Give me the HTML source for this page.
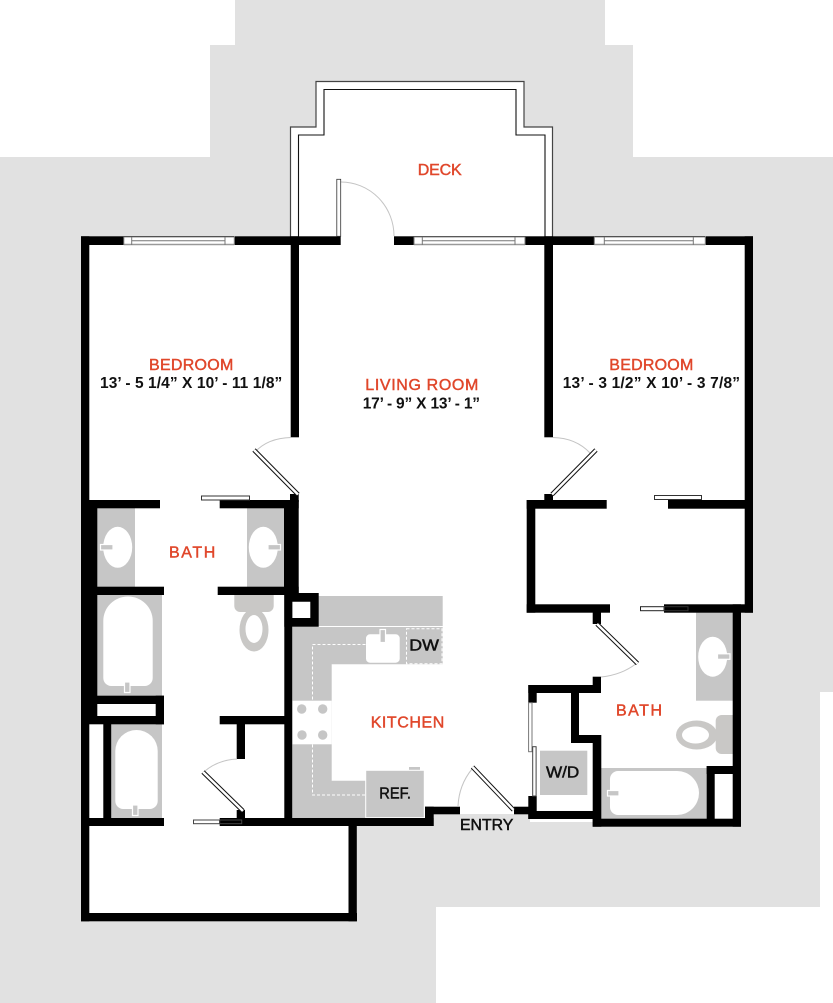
<!DOCTYPE html>
<html><head><meta charset="utf-8"><style>
html,body{margin:0;padding:0;background:#fff;width:833px;height:1003px;overflow:hidden}
svg{display:block}
text{font-family:"Liberation Sans",sans-serif}
.o{fill:#e0472b;font-size:16px;stroke:#e0472b;stroke-width:.45}
.k{fill:#111;font-size:15.5px;font-weight:bold}
.w{fill:#111;font-size:16px;stroke:#111;stroke-width:.5}
.g{fill:#c6c6c6}
.t{fill:#c9c8c6}
.arc{fill:none;stroke:#c4c4c4;stroke-width:1}
.f{fill:#c6c6c6;stroke:#fff;stroke-width:1.2}
.s{fill:#fff;stroke:#333;stroke-width:1}
</style></head><body>
<svg width="833" height="1003" viewBox="0 0 833 1003" xmlns="http://www.w3.org/2000/svg">
<polygon fill="#e1e1e1" points="235,0 605,0 605,45 633,45 633,157 833,157 833,692 820,692 820,907 436,907 436,1003 0,1003 0,157 210,157 210,45 235,45"/>
<!-- apartment interior -->
<polygon fill="#fff" points="85,240 749,240 749,610 737,610 737,822 530,822 530,814 430,814 430,822 350,822 350,916 85,916"/>
<!-- deck -->
<polygon fill="#fff" points="290.500,245 290.500,127 316,127 316,81.500 524,81.500 524,127 552.500,127 552.500,245"/>
<polyline fill="none" stroke="#444" stroke-width="1.200" points="290.500,237 290.500,127 316,127 316,81.500 524,81.500 524,127 552.500,127 552.500,237"/>
<polyline fill="none" stroke="#111" stroke-width="1.100" points="298.500,237 298.500,135 324,135 324,89.500 516,89.500 516,135 545,135 545,237"/>
<!-- kitchen -->
<rect class="g" x="318" y="596" width="124.700" height="30"/>
<polygon class="g" points="292,627 442.700,627 442.700,664.300 331.700,664.300 331.700,780.700 366,780.700 366,818 292,818"/>
<rect x="292.500" y="700.700" width="39.200" height="43.600" fill="#fff"/>
<g class="g"><circle cx="301.700" cy="709" r="4.700"/><circle cx="322.700" cy="709" r="4.700"/><circle cx="302" cy="735" r="4.700"/><circle cx="322.700" cy="735" r="4.700"/></g>
<path d="M365.500 644.500H312.500V700.500M312.500 744.500V795H365.500" fill="none" stroke="#fff" stroke-width="1" stroke-dasharray="3 2"/>
<rect x="406.500" y="628.800" width="35.500" height="35" fill="none" stroke="#fff" stroke-width="1" stroke-dasharray="3 2"/>
<rect x="366" y="634.300" width="33.700" height="28.400" rx="4" fill="#fff"/>
<rect class="f" x="380" y="629.500" width="5.500" height="13"/>
<rect class="g" x="409" y="767" width="11" height="3.500"/>
<rect class="g" x="365.700" y="770.300" width="58.600" height="47.400" stroke="#fff" stroke-width="1"/>
<!-- left bath fixtures -->
<rect class="g" x="97" y="508" width="38" height="79"/>
<ellipse cx="117.700" cy="547.300" rx="14.500" ry="20.500" fill="#fff"/>
<rect class="f" x="100.500" y="544.500" width="12.500" height="5.500"/>
<rect class="g" x="247" y="508" width="38" height="79"/>
<ellipse cx="263.300" cy="547.300" rx="14.500" ry="20.500" fill="#fff"/>
<rect class="f" x="268" y="544.500" width="12.500" height="5.500"/>
<rect class="g" x="97" y="595" width="65" height="101"/>
<path d="M103.300 620.700a24.700 24.200 0 0 1 49.400 0V678a8 8 0 0 1-8 8H111.300a8 8 0 0 1-8-8Z" fill="#fff"/>
<rect class="f" x="124.500" y="682" width="5.500" height="10.500"/>
<rect class="g" x="111" y="724" width="51" height="94"/>
<path d="M115.300 751a21.200 21 0 0 1 42.400 0V801a8 8 0 0 1-8 8H123.300a8 8 0 0 1-8-8Z" fill="#fff"/>
<rect class="f" x="132.500" y="805" width="5.500" height="10.500"/>
<path class="t" d="M234.300 595H273.700V606a6 6 0 0 1-6 6H240.300a6 6 0 0 1-6-6Z"/>
<ellipse class="t" cx="254" cy="630" rx="14.500" ry="21.500"/>
<ellipse cx="254" cy="629" rx="8.500" ry="14" fill="#fff"/>
<!-- right bath fixtures -->
<rect class="g" x="696" y="612" width="37" height="88.700"/>
<ellipse cx="712.700" cy="656.700" rx="14.500" ry="20" fill="#fff"/>
<rect class="f" x="717.500" y="653.800" width="12.500" height="5.500"/>
<path class="t" d="M733 715H721.700a6 6 0 0 0-6 6V748a6 6 0 0 0 6 6H733Z"/>
<ellipse class="t" cx="696.700" cy="735" rx="20.700" ry="14.500"/>
<ellipse cx="695.500" cy="735" rx="13.500" ry="8.500" fill="#fff"/>
<rect class="g" x="601" y="768" width="106" height="51"/>
<path d="M618 771H677a22 22 0 0 1 0 44H618a8 8 0 0 1-8-8V779a8 8 0 0 1 8-8Z" fill="#fff"/>
<rect class="f" x="607.500" y="790.500" width="11.500" height="5.500"/>
<rect class="g" x="540" y="750.700" width="47.300" height="44.300"/>
<!-- walls -->
<g fill="#000">
<rect x="81" y="236.300" width="43" height="8.700"/>
<rect x="234.700" y="236.300" width="106" height="8.700"/>
<rect x="394" y="236.300" width="20" height="8.700"/>
<rect x="525" y="236.300" width="69.300" height="8.700"/>
<rect x="705.700" y="236.300" width="47.300" height="8.700"/>
<rect x="81" y="236.300" width="8.300" height="685"/>
<rect x="744.700" y="236.300" width="8.300" height="376.400"/>
<rect x="290.700" y="236.300" width="8.300" height="201"/>
<rect x="544.300" y="236.300" width="8.700" height="201"/>
<rect x="89" y="500" width="8.300" height="224"/>
<rect x="81" y="500" width="79" height="8.300"/>
<rect x="219.700" y="500" width="79" height="8.300"/>
<rect x="284" y="500" width="14.700" height="95"/>
<rect x="290" y="494" width="8.700" height="8"/>
<rect x="81" y="586.700" width="83" height="8.300"/>
<rect x="217.700" y="586.700" width="81" height="8.300"/>
<path fill-rule="evenodd" d="M284.300 593H318.700V626.700H284.300ZM292.300 601.700V618H310.300V601.700Z"/>
<rect x="284.300" y="595" width="7.900" height="231"/>
<rect x="81" y="695.700" width="83" height="8.300"/>
<rect x="81" y="716" width="83" height="8.300"/>
<rect x="155.700" y="695.700" width="8.300" height="28.600"/>
<rect x="219.700" y="716" width="65" height="8.300"/>
<rect x="236.700" y="724" width="8.300" height="35"/>
<rect x="103.300" y="724" width="7.900" height="94"/>
<rect x="81" y="818" width="83" height="8"/>
<rect x="219.700" y="818" width="213.900" height="8"/>
<rect x="236.700" y="810" width="8.300" height="8"/>
<rect x="81" y="913" width="276" height="8.300"/>
<rect x="348.500" y="818" width="8.300" height="103.300"/>
<rect x="425" y="806.700" width="8.700" height="19.300"/>
<rect x="425" y="806.700" width="35" height="7.600"/>
<rect x="514" y="806.700" width="16" height="7.600"/>
<rect x="528.300" y="796" width="8.400" height="23"/>
<rect x="528.300" y="811" width="66" height="8"/>
<rect x="592.700" y="735" width="8.600" height="91.700"/>
<rect x="592.700" y="818.700" width="148.300" height="8"/>
<rect x="571" y="735" width="30" height="8"/>
<rect x="571" y="685" width="8" height="58"/>
<rect x="528.300" y="685" width="72.700" height="8"/>
<rect x="592.700" y="676.700" width="8.300" height="16"/>
<rect x="528.300" y="685" width="8.400" height="17.700"/>
<rect x="732.700" y="604.300" width="8.300" height="222.400"/>
<rect x="706.700" y="766" width="8" height="60"/>
<rect x="706.700" y="766" width="34" height="8"/>
<rect x="526.700" y="500" width="8.600" height="112.700"/>
<rect x="526.700" y="500" width="80" height="8.700"/>
<rect x="668" y="500" width="85" height="8.700"/>
<rect x="526.700" y="604.300" width="83.300" height="8.400"/>
<rect x="664" y="604.300" width="89" height="8.400"/>
<rect x="592.700" y="612" width="8.300" height="12"/>
<rect x="544.300" y="494" width="8.700" height="7"/>
</g>
<!-- windows -->
<g>
<rect x="123.800" y="236.500" width="110.500" height="8.500" fill="#fff"/>
<rect x="414" y="236.500" width="111" height="8.500" fill="#fff"/>
<rect x="594.300" y="236.500" width="111" height="8.500" fill="#fff"/>
<path d="M123.800 236.800H234.300M414 236.800H525M594.300 236.800H705.300" stroke="#222" stroke-width="1" fill="none"/>
<path d="M123.800 244.500H234.300M414 244.500H525M594.300 244.500H705.300" stroke="#999" stroke-width="1.500" fill="none"/>
<path d="M131.700 240.700H225M422.300 240.700H515M604.300 240.700H693.300" stroke="#777" stroke-width="1" fill="none"/>
<path d="M131.700 237V245M225 237V245M422.300 237V245M515 237V245M604.300 237V245M693.300 237V245M123.800 237V245M234.300 237V245M414 237V245M525 237V245M594.300 237V245M705.300 237V245" stroke="#777" stroke-width="1" fill="none"/>
</g>
<!-- door swings -->
<path class="arc" d="M341 182A53 54 0 0 1 394 236"/>
<path class="arc" d="M255 452Q268 438 291 437.500"/>
<path class="arc" d="M553 437.500Q576 438 590 453"/>
<path class="arc" d="M205 771Q218 760 237 759"/>
<path class="arc" d="M637 663Q622 675 601 677"/>
<path class="arc" d="M472 769Q459 785 458 806"/>
<!-- door leaves -->
<rect x="336.800" y="179.300" width="3.900" height="57" fill="#fff" stroke="#333" stroke-width=".8"/>
<g fill="none" stroke-linecap="butt">
<path d="M254 450L298 494.500M552 494.500L596 450M203 772L243 811M597 624L637.500 663.500M472.500 767L513.500 810" stroke="#111" stroke-width="4.500"/>
<path d="M254 450L298 494.500M552 494.500L596 450M203 772L243 811M597 624L637.500 663.500M472.500 767L513.500 810" stroke="#fff" stroke-width="2.500"/>
</g>
<!-- sliding doors -->
<rect class="s" x="201.500" y="496" width="48" height="4" stroke="#555"/>
<rect class="s" x="654.500" y="495.500" width="47" height="4" stroke="#555"/>
<rect x="193.500" y="820" width="26" height="3.700" fill="#fff" stroke="#444"/>
<rect x="219.700" y="820" width="22" height="3.700" fill="none" stroke="#444"/>
<rect x="640.500" y="606.700" width="24" height="4" fill="#fff" stroke="#222"/>
<rect x="664" y="606.700" width="24" height="4" fill="none" stroke="#333"/>
<rect x="528.600" y="702.700" width="3.400" height="49" fill="#fff" stroke="#777"/>
<rect x="532.700" y="746.700" width="3.400" height="49.300" fill="#fff" stroke="#444"/>
<!-- labels -->
<text class="o" x="417.700" y="175" textLength="44">DECK</text>
<text class="o" x="149" y="370" textLength="84.300">BEDROOM</text>
<text class="k" x="100" y="388" textLength="182.300">13’ - 5 1/4” X 10’ - 11 1/8”</text>
<text class="o" x="365.300" y="390" textLength="113">LIVING ROOM</text>
<text class="k" x="362.700" y="408.500" textLength="117.300">17’ - 9” X 13’ - 1”</text>
<text class="o" x="609.300" y="370" textLength="84">BEDROOM</text>
<text class="k" x="562.700" y="388" textLength="177.300">13’ - 3 1/2” X 10’ - 3 7/8”</text>
<text class="o" x="169" y="557.700" textLength="46.300">BATH</text>
<text class="o" x="616" y="715.700" textLength="46">BATH</text>
<text class="o" x="370.700" y="727.700" textLength="73.600">KITCHEN</text>
<text class="w" x="409.300" y="650.700" textLength="29.700" lengthAdjust="spacingAndGlyphs">DW</text>
<text class="w" x="379.300" y="798.700" textLength="31.700" lengthAdjust="spacingAndGlyphs">REF.</text>
<text class="w" x="546" y="777.700" textLength="33.300" lengthAdjust="spacingAndGlyphs">W/D</text>
<text class="w" x="460" y="830" textLength="53.300" lengthAdjust="spacingAndGlyphs">ENTRY</text>
</svg>
</body></html>
